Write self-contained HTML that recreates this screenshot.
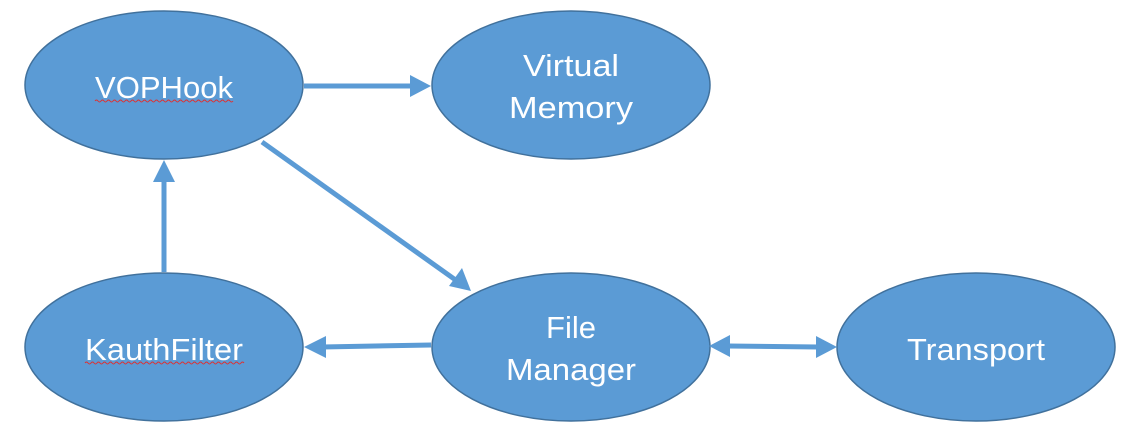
<!DOCTYPE html>
<html><head><style>html,body{margin:0;padding:0;background:#fff}svg{display:block}</style></head>
<body>
<svg width="1143" height="447" xmlns="http://www.w3.org/2000/svg" font-family="'Liberation Sans', sans-serif">
<g fill="#5b9bd5" stroke="#41719c" stroke-width="1.5">
<ellipse cx="164" cy="85" rx="139" ry="74"/>
<ellipse cx="571" cy="85" rx="139" ry="74"/>
<ellipse cx="164" cy="347" rx="139" ry="74"/>
<ellipse cx="571" cy="347" rx="139" ry="74"/>
<ellipse cx="976" cy="347" rx="139" ry="74"/>
</g>
<g stroke="#5b9bd5" stroke-width="5" fill="none">
<line x1="304" y1="86" x2="412" y2="86"/>
<line x1="164" y1="272" x2="164" y2="180"/>
<line x1="262" y1="142" x2="457" y2="281"/>
<line x1="431" y1="345" x2="322" y2="347"/>
<line x1="728" y1="346" x2="818" y2="347"/>
</g>
<g fill="#5b9bd5">
<polygon points="431,86 410,75 410,97"/>
<polygon points="164,160 153,182 175,182"/>
<polygon points="471,291 449,286 462,268"/>
<polygon points="304,347 326,336 326,358"/>
<polygon points="709,346 730,335 730,357"/>
<polygon points="837,347 816,336 816,358"/>
</g>
<g fill="#fff" font-size="31" text-anchor="middle">
<text x="164" y="98" textLength="138" lengthAdjust="spacingAndGlyphs">VOPHook</text>
<text x="571" y="76" textLength="96" lengthAdjust="spacingAndGlyphs">Virtual</text>
<text x="571" y="118" textLength="124" lengthAdjust="spacingAndGlyphs">Memory</text>
<text x="164" y="360" textLength="158" lengthAdjust="spacingAndGlyphs">KauthFilter</text>
<text x="571" y="338" textLength="50" lengthAdjust="spacingAndGlyphs">File</text>
<text x="571" y="380" textLength="130" lengthAdjust="spacingAndGlyphs">Manager</text>
<text x="976" y="360" textLength="138" lengthAdjust="spacingAndGlyphs">Transport</text>
</g>
<g stroke="#e03030" stroke-width="1" fill="none">
<path d="M95 101 q1.5 -2 3 0 t3 0 t3 0 t3 0 t3 0 t3 0 t3 0 t3 0 t3 0 t3 0 t3 0 t3 0 t3 0 t3 0 t3 0 t3 0 t3 0 t3 0 t3 0 t3 0 t3 0 t3 0 t3 0 t3 0 t3 0 t3 0 t3 0 t3 0 t3 0 t3 0 t3 0 t3 0 t3 0 t3 0 t3 0 t3 0 t3 0 t3 0 t3 0 t3 0 t3 0 t3 0 t3 0 t3 0 t3 0 t3 0"/>
<path d="M85 363 q1.5 -2 3 0 t3 0 t3 0 t3 0 t3 0 t3 0 t3 0 t3 0 t3 0 t3 0 t3 0 t3 0 t3 0 t3 0 t3 0 t3 0 t3 0 t3 0 t3 0 t3 0 t3 0 t3 0 t3 0 t3 0 t3 0 t3 0 t3 0 t3 0 t3 0 t3 0 t3 0 t3 0 t3 0 t3 0 t3 0 t3 0 t3 0 t3 0 t3 0 t3 0 t3 0 t3 0 t3 0 t3 0 t3 0 t3 0 t3 0 t3 0 t3 0 t3 0 t3 0 t3 0 t3 0"/>
</g>
</svg>
</body></html>
